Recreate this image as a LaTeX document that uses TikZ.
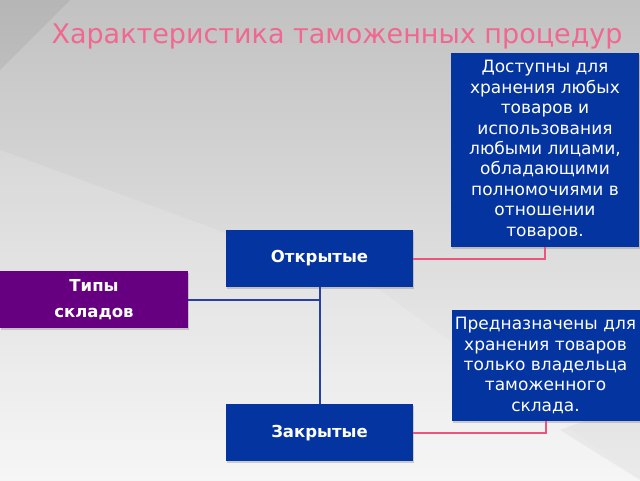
\documentclass[tikz,border=0pt]{standalone}
\usepackage{fontspec}
\setmainfont{DejaVu Sans}
\usetikzlibrary{positioning,shadows}

\definecolor{boxblue}{RGB}{4,52,160}
\definecolor{kindpurple}{RGB}{102,0,128}
\definecolor{titlepink}{RGB}{240,104,144}
\definecolor{stemblue}{RGB}{40,64,160}
\definecolor{linkpink}{RGB}{236,84,124}

\tikzset{
  box/.style={fill=boxblue, text=white, inner sep=1pt, align=center,
    drop shadow={opacity=0.35, shadow xshift=1pt, shadow yshift=-1.5pt}},
  head/.style={box, font=\bfseries\fontsize{16.5}{26}\selectfont,
    minimum width=187pt, minimum height=57pt},
  note/.style={box, font=\fontsize{17}{20.4}\selectfont, minimum width=188pt},
  stem/.style={draw=stemblue, line width=2pt},
  link/.style={draw=linkpink, line width=2pt},
}

\begin{document}
\begin{tikzpicture}[x=1pt,y=-1pt]
   \useasboundingbox (0,0) rectangle (640,480);
   % background
   \shade[top color=black!24, bottom color=black!4] (0,0) rectangle (640,480);
   \fill[white, opacity=0.15] (0,150) -- (380,290) -- (640,480) -- (0,480) -- cycle;
   \fill[black, opacity=0.06] (0,0) -- (70,0) -- (0,70) -- cycle;
   \fill[black, opacity=0.04] (560,430) -- (640,400) -- (640,480) -- cycle;

   \node[anchor=base, text=titlepink, font=\fontsize{27}{30}\selectfont] (title)
      at (337,43) {Характеристика таможенных процедур};

   \node[head, fill=kindpurple, minimum width=188pt] (tipy) at (94,299.5) {Типы\\складов};
   \node[head] (otkr) at (319.5,258.5) {Открытые};
   \node[head, below=117pt of otkr] (zakr) {Закрытые};

   \node[note, minimum height=194pt] (otkrnote) at (545,150)
      {Доступны для\\хранения любых\\товаров и\\использования\\любыми лицами,\\обладающими\\полномочиями в\\отношении\\товаров.};
   \node[note, minimum height=111pt] (zakrnote) at (545.5,365.5)
      {Предназначены для\\хранения товаров\\только владельца\\таможенного\\склада.};

   \draw[stem] (tipy.east) -- (tipy.east -| otkr.south);
   \draw[stem] (otkr.south) -- (zakr.north);
   \draw[link] (otkr.east) -| (otkrnote.south);
   \draw[link] (zakr.east) -| (zakrnote.south);
\end{tikzpicture}
\end{document}
